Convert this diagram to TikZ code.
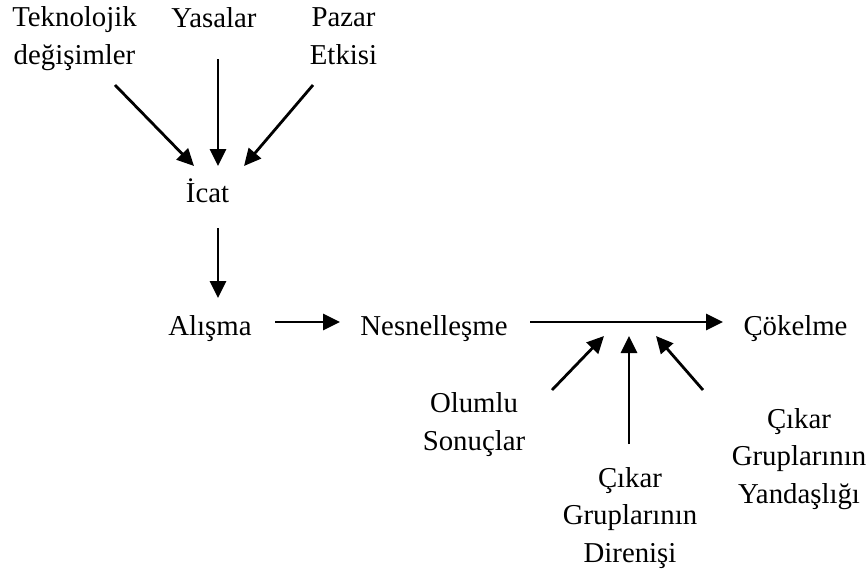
\documentclass[tikz,border=0pt]{standalone}
\usepackage{fontspec}
\setmainfont{Liberation Serif}
\usetikzlibrary{arrows.meta}
\begin{document}
\begin{tikzpicture}[x=1pt,y=-1pt,
  lbl/.style={inner sep=0pt,outer sep=0pt,align=center,anchor=base,
    font=\fontsize{28.8}{37.5}\selectfont},
  arr/.style={line width=2.8pt,-{Triangle[length=17pt,width=16pt]}}]
\useasboundingbox (0,0) rectangle (868,574);
% text nodes (anchored at the baseline of the last line)
\node[lbl] (tek) at (74.5,64) {Teknolojik\\değişimler};
\node[lbl] (yas) at (214,27) {Yasalar};
\node[lbl] (paz) at (343.5,64) {Pazar\\Etkisi};
\node[lbl] (icat) at (207.5,202) {İcat};
\node[lbl] (ali) at (210,335) {Alışma};
\node[lbl] (nes) at (434,335) {Nesnelleşme};
\node[lbl] (cok) at (795.5,335) {Çökelme};
\node[lbl] (olu) at (474,450) {Olumlu\\Sonuçlar};
\node[lbl] (dir) at (630,562) {Çıkar\\Gruplarının\\Direnişi};
\node[lbl] (yan) at (799,503) {Çıkar\\Gruplarının\\Yandaşlığı};
% connector end points
\coordinate (tekS) at (115,85);   \coordinate (tekE) at (194,166);
\coordinate (yasS) at (218,59);   \coordinate (yasE) at (218,166);
\coordinate (pazS) at (313,85);   \coordinate (pazE) at (244,166);
\coordinate (icatS) at (218,228); \coordinate (icatE) at (218,298);
\coordinate (aliS) at (275,322);  \coordinate (aliE) at (340,322);
\coordinate (nesS) at (530,322);  \coordinate (nesE) at (723,322);
\coordinate (oluS) at (552,390);  \coordinate (oluE) at (604,336);
\coordinate (dirS) at (629,444);  \coordinate (dirE) at (629,336);
\coordinate (yanS) at (703,390);  \coordinate (yanE) at (656,336);
\draw[arr] (tekS) -- (tekE);
\draw[arr] (yasS) -- (yasE);
\draw[arr] (pazS) -- (pazE);
\draw[arr] (icatS) -- (icatE);
\draw[arr] (aliS) -- (aliE);
\draw[arr] (nesS) -- (nesE);
\draw[arr] (oluS) -- (oluE);
\draw[arr] (dirS) -- (dirE);
\draw[arr] (yanS) -- (yanE);
\end{tikzpicture}
\end{document}
